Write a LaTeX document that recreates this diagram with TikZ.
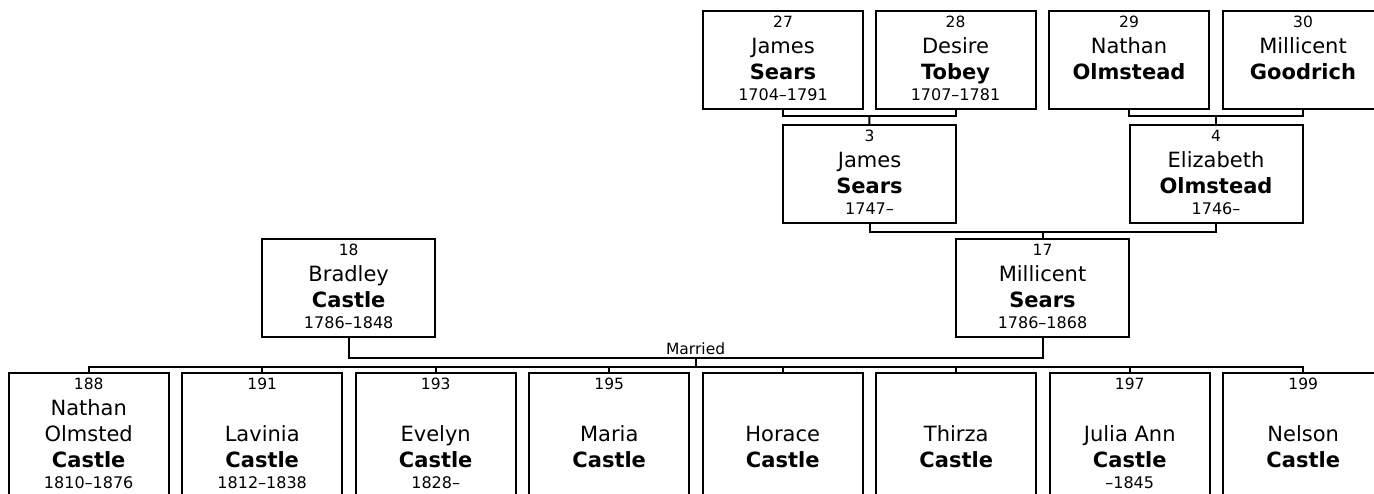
\documentclass[tikz,border=0pt]{standalone}
\usepackage{fontspec}
\setmainfont{DejaVu Sans}
\usepackage{tikz}

\renewcommand{\arraystretch}{0}
\newcommand{\numf}{\fontsize{15.5}{16}\selectfont}
\newcommand{\namef}{\fontsize{21}{22}\selectfont}
\newcommand{\yrf}{\fontsize{16}{17}\selectfont}
\newcommand{\rN}{\rule[-5pt]{0pt}{22pt}}
\newcommand{\rM}{\rule[-5pt]{0pt}{26pt}}
\newcommand{\rY}{\rule[-5pt]{0pt}{21pt}}
\newcommand{\card}[4]{\begin{tabular}{@{}c@{}}\numf\rN#1\\\namef\rM#2\\\namef\bfseries\rM#3\\\yrf\rY#4\end{tabular}}
\newcommand{\kid}[5]{\begin{tabular}{@{}c@{}}\numf\rN#1\\\namef\rM#2\\\namef\rM#3\\\namef\bfseries\rM#4\\\yrf\rY#5\end{tabular}}

\begin{document}
\begin{tikzpicture}[x=1pt,y=-1pt]
\tikzstyle{every node}+=[inner sep=0pt]
\tikzstyle{box}=[draw=black,line width=2pt,rectangle,minimum width=160pt,minimum height=98pt]
\tikzstyle{wide}=[box,minimum width=173pt]
\tikzstyle{kidbox}=[box,minimum height=160pt]
\tikzstyle{txt}=[anchor=north,align=center]
\tikzstyle{link}=[draw=black,line width=2pt]
\useasboundingbox (0,0) rectangle (1374,493);
\fill [white] (0,0) rectangle (1374,493);
\clip (0,0) rectangle (1374,493);
\node [box] (p27) at (783,60.2) {};
\node [txt] (t27) at (p27.north) {\card{27}{James}{Sears}{1704--1791}};
\node [box] (p28) at (955.5,60.2) {};
\node [txt] (t28) at (p28.north) {\card{28}{Desire}{Tobey}{1707--1781}};
\node [box] (p29) at (1129,60.2) {};
\node [txt] (t29) at (p29.north) {\card{29}{Nathan}{Olmstead}{}};
\node [box] (p30) at (1303,60.2) {};
\node [txt] (t30) at (p30.north) {\card{30}{Millicent}{Goodrich}{}};
\node [wide] (p3) at (869.5,174.3) {};
\node [txt] (t3) at (p3.north) {\card{3}{James}{Sears}{1747--}};
\node [wide] (p4) at (1216,174.3) {};
\node [txt] (t4) at (p4.north) {\card{4}{Elizabeth}{Olmstead}{1746--}};
\node [wide] (p18) at (348.7,288.3) {};
\node [txt] (t18) at (p18.north) {\card{18}{Bradley}{Castle}{1786--1848}};
\node [wide] (p17) at (1042.5,288.3) {};
\node [txt] (t17) at (p17.north) {\card{17}{Millicent}{Sears}{1786--1868}};
\node [kidbox] (c188) at (88.7,453.3) {};
\node [txt] (tc188) at (c188.north) {\kid{188}{Nathan}{Olmsted}{Castle}{1810--1876}};
\node [kidbox] (c191) at (262.2,453.3) {};
\node [txt] (tc191) at (c191.north) {\kid{191}{}{Lavinia}{Castle}{1812--1838}};
\node [kidbox] (c193) at (435.7,453.3) {};
\node [txt] (tc193) at (c193.north) {\kid{193}{}{Evelyn}{Castle}{1828--}};
\node [kidbox] (c195) at (609.2,453.3) {};
\node [txt] (tc195) at (c195.north) {\kid{195}{}{Maria}{Castle}{}};
\node [kidbox] (chorace) at (782.7,453.3) {};
\node [txt] (tchorace) at (chorace.north) {\kid{}{}{Horace}{Castle}{}};
\node [kidbox] (cthirza) at (956.2,453.3) {};
\node [txt] (tcthirza) at (cthirza.north) {\kid{}{}{Thirza}{Castle}{}};
\node [kidbox] (c197) at (1129.7,453.3) {};
\node [txt] (tc197) at (c197.north) {\kid{197}{}{Julia Ann}{Castle}{--1845}};
\node [kidbox] (c199) at (1303.2,453.3) {};
\node [txt] (tc199) at (c199.north) {\kid{199}{}{Nelson}{Castle}{}};
\coordinate (j3) at (869.3,116);
\draw [link] (p27.south) |- (j3) -| (p28.south);
\draw [link] (j3) -- (p3.north);
\coordinate (j4) at (1216,116);
\draw [link] (p29.south) |- (j4) -| (p30.south);
\draw [link] (j4) -- (p4.north);
\coordinate (j17) at (1042.5,231.5);
\draw [link] (p3.south) |- (j17) -| (p4.south);
\draw [link] (j17) -- (p17.north);
\coordinate (jm) at (695.6,358.3);
\draw [link] (p18.south) |- (jm) -| (p17.south);
\node [anchor=base] (married) at ([yshift=3.5pt]jm) {\numf Married};
\coordinate (jc) at (695.6,366.7);
\draw [link] (jm) -- (jc);
\draw [link] (c188.north) |- (jc) -| (c199.north);
\draw [link] (c191.north) -- (c191.north |- jc);
\draw [link] (c193.north) -- (c193.north |- jc);
\draw [link] (c195.north) -- (c195.north |- jc);
\draw [link] (chorace.north) -- (chorace.north |- jc);
\draw [link] (cthirza.north) -- (cthirza.north |- jc);
\draw [link] (c197.north) -- (c197.north |- jc);
\end{tikzpicture}
\end{document}
